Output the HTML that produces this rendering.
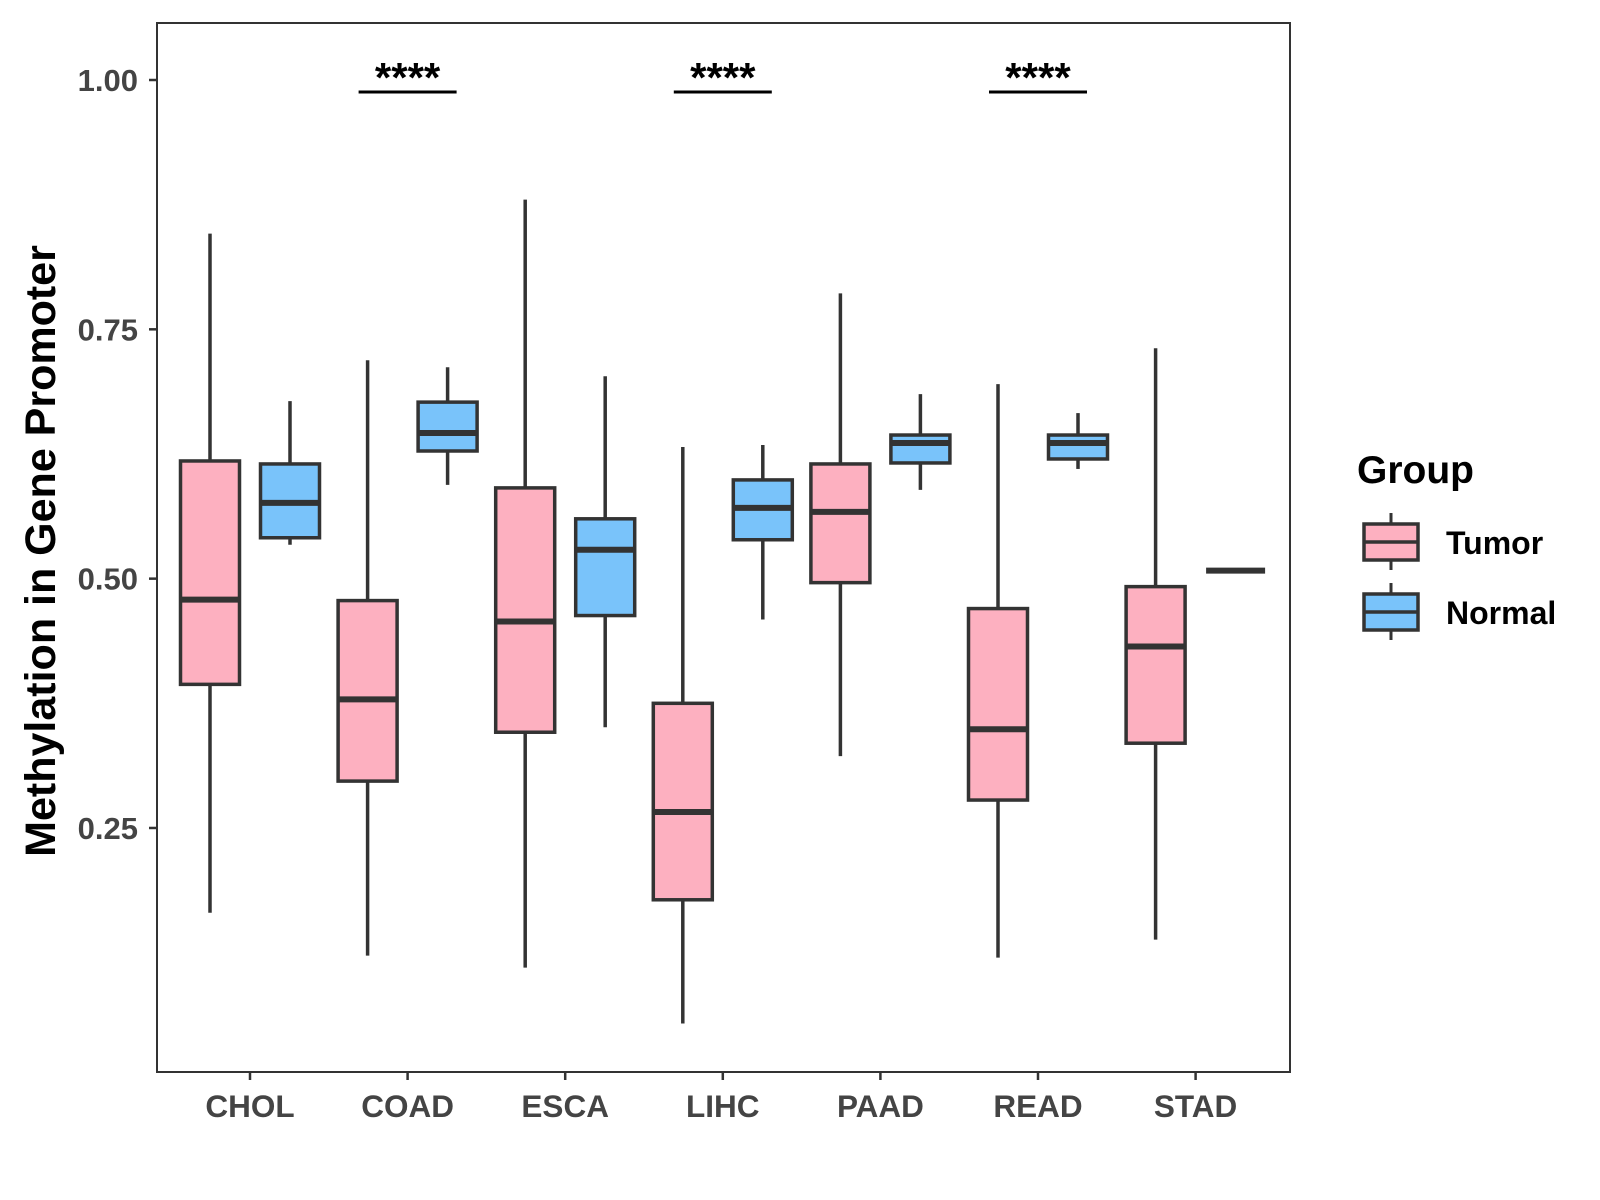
<!DOCTYPE html>
<html><head><meta charset="utf-8"><style>
html,body{margin:0;padding:0;background:#fff}
svg{display:block}
text{font-family:"Liberation Sans",Arial,sans-serif;font-weight:bold}
</style></head><body>
<svg id="chart" width="1600" height="1200">
<rect x="157" y="23" width="1133" height="1049" fill="#fff" stroke="#333" stroke-width="2"/>
<g id="boxes"></g>
<g id="axes"></g>
<text transform="translate(55,551) rotate(-90)" text-anchor="middle" font-size="43" fill="#000">Methylation in Gene Promoter</text>
<g>
<text x="1357" y="483" font-size="39" fill="#000">Group</text>
<g>
<line x1="1391" y1="513" x2="1391" y2="570" stroke="#333" stroke-width="3"/>
<rect x="1364" y="524" width="54" height="36" fill="#FDB0C0" stroke="#333" stroke-width="3.5"/>
<line x1="1364" y1="542" x2="1418" y2="542" stroke="#333" stroke-width="3.5"/>
<text x="1446" y="554" font-size="32" fill="#000">Tumor</text></g>
<g>
<line x1="1391" y1="583" x2="1391" y2="640" stroke="#333" stroke-width="3"/>
<rect x="1364" y="594" width="54" height="36" fill="#79C3FA" stroke="#333" stroke-width="3.5"/>
<line x1="1364" y1="612" x2="1418" y2="612" stroke="#333" stroke-width="3.5"/>
<text x="1446" y="624" font-size="32" fill="#000">Normal</text></g>
</g>
</svg>
<script>
const categories=["CHOL","COAD","ESCA","LIHC","PAAD","READ","STAD"];
// [lower, Q1, median, Q3, upper]
const tumorStats=[[0.165,0.394,0.479,0.618,0.846],[0.122,0.297,0.379,0.478,0.719],[0.110,0.346,0.457,0.591,0.880],[0.054,0.178,0.266,0.375,0.632],[0.322,0.496,0.567,0.615,0.786],[0.120,0.278,0.349,0.470,0.695],[0.138,0.335,0.432,0.492,0.731]];
const normalStats=[[0.534,0.541,0.576,0.615,0.678],[0.594,0.628,0.646,0.677,0.712],[0.351,0.463,0.529,0.560,0.703],[0.459,0.539,0.571,0.599,0.634],[0.589,0.616,0.636,0.644,0.685],[0.610,0.620,0.636,0.644,0.666],[0.508,0.508,0.508,0.508,0.508]];
const signif=["","****","","****","","****",""];
const yTicks=[0.25,0.50,0.75,1.00];
const yTickLabels=["0.25","0.50","0.75","1.00"];

const NS="http://www.w3.org/2000/svg";
const y=v=>80+(1-v)*997.3;
const x=i=>250+i*157.6;
const bw=59, off=40;
function mk(tag,attrs,parent){const e=document.createElementNS(NS,tag);for(const k in attrs)e.setAttribute(k,attrs[k]);parent.appendChild(e);return e;}
const gb=document.getElementById('boxes'), ga=document.getElementById('axes');
function box(cx,s,fill,name){
  const g=mk('g',{},gb);
  
  
  mk('line',{x1:cx,x2:cx,y1:y(s[4]),y2:y(s[0]),stroke:'#333','stroke-width':3.5},g);
  mk('rect',{x:cx-bw/2,y:y(s[3]),width:bw,height:Math.max(0,y(s[1])-y(s[3])),fill:fill,stroke:'#333','stroke-width':3.5},g);
  mk('line',{x1:cx-bw/2,x2:cx+bw/2,y1:y(s[2]),y2:y(s[2]),stroke:'#333','stroke-width':6},g);
}
categories.forEach((c,i)=>{
  box(x(i)-off,tumorStats[i],'#FDB0C0','box-tumor-'+c.toLowerCase());
  box(x(i)+off,normalStats[i],'#79C3FA','box-normal-'+c.toLowerCase());
  if(signif[i]){
    const g=mk('g',{},gb);
    
    
    mk('line',{x1:x(i)-49,x2:x(i)+49,y1:92,y2:92,stroke:'#000','stroke-width':3},g);
    const t=mk('text',{x:x(i),y:92,'text-anchor':'middle','font-size':42,fill:'#000'},g);
    t.textContent=signif[i];
  }
  mk('line',{x1:x(i),x2:x(i),y1:1072,y2:1080,stroke:'#333','stroke-width':2.5},ga);
  const t=mk('text',{x:x(i),y:1117,'text-anchor':'middle','font-size':31.5,fill:'#444'},ga);
  
  
  t.textContent=c;
});
yTicks.forEach((v,i)=>{
  mk('line',{x1:149,x2:157,y1:y(v),y2:y(v),stroke:'#333','stroke-width':2.5},ga);
  const t=mk('text',{x:138,y:y(v)+11,'text-anchor':'end','font-size':31,fill:'#444'},ga);
  
  
  t.textContent=yTickLabels[i];
});
</script>
</body></html>
